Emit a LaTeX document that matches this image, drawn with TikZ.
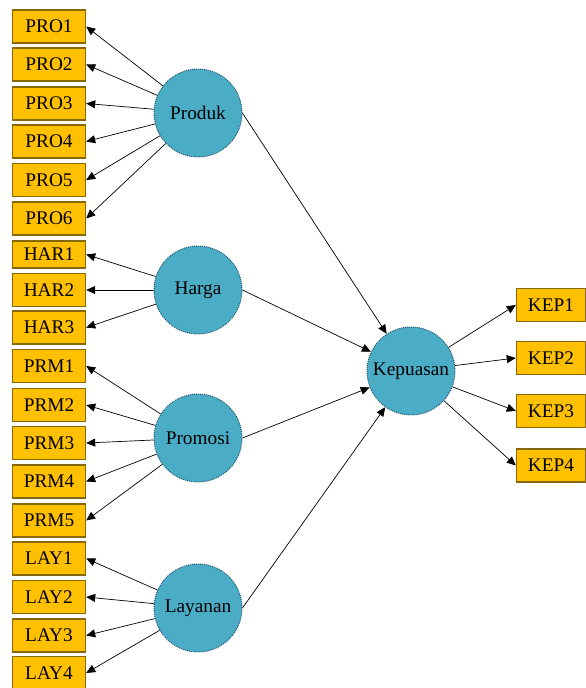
\documentclass[tikz,border=0pt]{standalone}
\usepackage{fontspec}
\setmainfont{Liberation Serif}
\usetikzlibrary{arrows.meta}
\definecolor{boxfill}{HTML}{FFC000}
\definecolor{boxline}{HTML}{86680A}
\definecolor{circfill}{HTML}{4BACC6}
\definecolor{circline}{HTML}{1F4E6A}
\begin{document}
\begin{tikzpicture}[x=1pt,y=-1pt,
  ind/.style={draw=boxline,fill=boxfill,line width=1.4pt,minimum width=73pt,minimum height=33pt,inner sep=0pt,font=\fontsize{19.3}{22}\selectfont},
  kep/.style={ind,minimum width=69pt},
  lat/.style={circle,draw=circline,dash pattern=on 1pt off 1pt,line width=0.9pt,fill=circfill,minimum size=88pt,inner sep=0pt,font=\fontsize{19.3}{22}\selectfont},
  arr/.style={-{Triangle[length=9pt,width=8pt]},line width=0.7pt,black,solid}]
\useasboundingbox (0,0) rectangle (586,688);
% left indicator boxes
\node[ind] (pro1) at (49,26.5) {PRO1};
\node[ind] (pro2) at (49,64.5) {PRO2};
\node[ind] (pro3) at (49,103.5) {PRO3};
\node[ind] (pro4) at (49,141.5) {PRO4};
\node[ind] (pro5) at (49,180) {PRO5};
\node[ind] (pro6) at (49,218.5) {PRO6};
\node[ind,minimum height=27pt] (har1) at (49,254.5) {HAR1};
\node[ind] (har2) at (49,290) {HAR2};
\node[ind] (har3) at (49,327.5) {HAR3};
\node[ind] (prm1) at (49,366) {PRM1};
\node[ind] (prm2) at (49,405) {PRM2};
\node[ind] (prm3) at (49,443) {PRM3};
\node[ind] (prm4) at (49,481.5) {PRM4};
\node[ind] (prm5) at (49,520.5) {PRM5};
\node[ind] (lay1) at (49,558.5) {LAY1};
\node[ind] (lay2) at (49,597) {LAY2};
\node[ind] (lay3) at (49,635.5) {LAY3};
\node[ind] (lay4) at (49,673) {LAY4};
% right indicator boxes
\node[kep] (kep1) at (551,305) {KEP1};
\node[kep] (kep2) at (551,358) {KEP2};
\node[kep] (kep3) at (551,411) {KEP3};
\node[kep] (kep4) at (551,465.5) {KEP4};
% latent variables
\node[lat] (prod) at (198,113) {Produk};
\node[lat] (harga) at (198,290) {Harga};
\node[lat] (prom) at (198,438) {Promosi};
\node[lat] (lay) at (198,608) {Layanan};
\node[lat] (kepu) at (411,371) {Kepuasan};
% loadings
\foreach \i in {1,...,6} \draw[arr] (prod) -- (pro\i.east);
\foreach \i in {1,...,3} \draw[arr] (harga) -- (har\i.east);
\foreach \i in {1,...,5} \draw[arr] (prom) -- (prm\i.east);
\foreach \i in {1,...,4} \draw[arr] (lay) -- (lay\i.east);
\foreach \i in {1,...,4} \draw[arr] (kepu) -- (kep\i.west);
% structural paths
\draw[arr] (prod.east) -- (kepu);
\draw[arr] (harga.east) -- (kepu);
\draw[arr] (prom.east) -- (kepu);
\draw[arr] (lay.east) -- (kepu);
\end{tikzpicture}
\end{document}
